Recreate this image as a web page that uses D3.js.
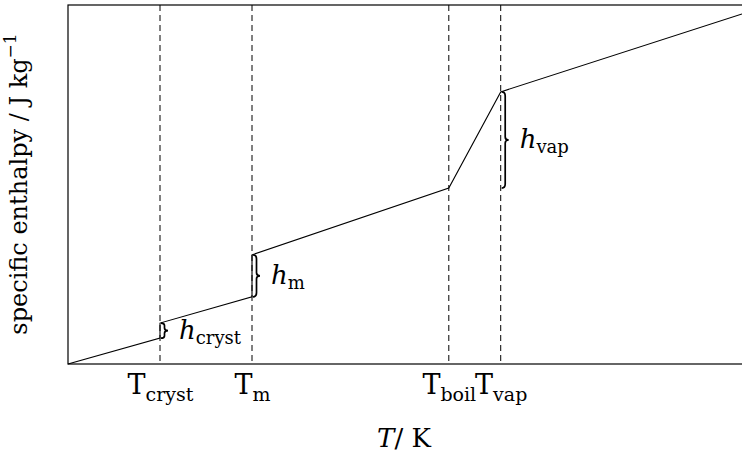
<!DOCTYPE html>
<html>
<head>
<meta charset="utf-8">
<script src="https://cdn.jsdelivr.net/npm/d3@7"></script>
<style>
  body { margin: 0; background: #fff; }
  text { font-family: "DejaVu Serif", serif; fill: #000; }
</style>
</head>
<body>
<div class="chart"></div>
<script>
// Chart size (same as window)
var svgWidth = 742;
var svgHeight = 456;

var margin = { top: 5, right: 0, bottom: 92, left: 68 };
var chartWidth = svgWidth - margin.left - margin.right;
var chartHeight = svgHeight - margin.top - margin.bottom;

// Data: phase transition temperatures (arbitrary units) and enthalpy curve
var tickNames = ["cryst", "m", "boil", "vap"];
var tickTemps = [1.365, 2.73, 5.65, 6.42];

// curve points (T, h), jumps share the same T
var curveT = [0, 1.365, 1.365, 2.73, 2.73, 5.65, 6.42, 10];
var curveH = [0, 0.72, 1.14, 1.87, 3.04, 4.90, 7.58, 9.75];

// braces: T, low and high enthalpy, subscript
var braceT = [1.365, 2.73, 6.42];
var braceLow = [0.72, 1.87, 4.90];
var braceHigh = [1.14, 3.04, 7.58];
var braceNames = ["cryst", "m", "vap"];

var svg = d3.select(".chart")
  .append("svg")
  .attr("width", svgWidth)
  .attr("height", svgHeight);

var chartGroup = svg.append("g")
  .attr("transform", `translate(${margin.left}, ${margin.top})`);

var xScale = d3.scaleLinear().domain([0, 10]).range([0, chartWidth]);
var yScale = d3.scaleLinear().domain([0, 10]).range([chartHeight, 0]);

// frame (right edge is cut off by the window)
chartGroup.append("rect")
  .attr("x", 0).attr("y", 0)
  .attr("width", chartWidth + 5)
  .attr("height", chartHeight)
  .attr("fill", "none")
  .attr("stroke", "#000")
  .attr("stroke-width", 1.2);

// dashed lines at transitions
chartGroup.selectAll(".dash")
  .data(tickTemps)
  .enter()
  .append("line")
  .attr("class", "dash")
  .attr("x1", d => xScale(d)).attr("x2", d => xScale(d))
  .attr("y1", 0).attr("y2", chartHeight)
  .attr("stroke", "#000")
  .attr("stroke-width", 1)
  .attr("stroke-dasharray", "6,4");

// enthalpy curve
var pts = curveT.map((t, i) => [t, curveH[i]]);
var line = d3.line().x(d => xScale(d[0])).y(d => yScale(d[1]));
chartGroup.append("path")
  .datum(pts)
  .attr("d", line)
  .attr("fill", "none")
  .attr("stroke", "#000")
  .attr("stroke-width", 1.1);

// curly brace path, opening on the left, tip pointing right
function bracePath(x, y1, y2, w) {
  var ym = (y1 + y2) / 2;
  var q = w / 2;
  return `M${x},${y1}` +
    ` Q${x + q},${y1} ${x + q},${y1 + Math.min(4, (ym - y1) / 3)}` +
    ` L${x + q},${ym - Math.min(3, (ym - y1) / 3)}` +
    ` Q${x + q},${ym} ${x + w},${ym}` +
    ` Q${x + q},${ym} ${x + q},${ym + Math.min(3, (y2 - ym) / 3)}` +
    ` L${x + q},${y2 - Math.min(4, (y2 - ym) / 3)}` +
    ` Q${x + q},${y2} ${x},${y2}`;
}

braceT.forEach(function(t, i) {
  var x = xScale(t);
  var yTop = yScale(braceHigh[i]);
  var yBot = yScale(braceLow[i]);
  chartGroup.append("path")
    .attr("d", bracePath(x + 1, yTop, yBot, 7))
    .attr("fill", "none")
    .attr("stroke", "#000")
    .attr("stroke-width", 1.7);

  var lab = chartGroup.append("text")
    .attr("x", x + 19)
    .attr("y", (yTop + yBot) / 2 + 8)
    .attr("font-size", 26);
  lab.append("tspan").attr("font-style", "italic").text("h");
  lab.append("tspan").attr("font-size", 18).attr("dy", 5).text(braceNames[i]);
});

// bottom axis with T subscript labels
var bottomAxis = d3.axisBottom(xScale)
  .tickValues(tickTemps)
  .tickSize(0)
  .tickPadding(0)
  .tickFormat("");

var axisG = chartGroup.append("g")
  .attr("transform", `translate(0, ${chartHeight})`)
  .call(bottomAxis);
axisG.select(".domain").remove();

axisG.selectAll(".tick").each(function(d, i) {
  var t = d3.select(this).append("text")
    .attr("y", 30)
    .attr("text-anchor", "middle")
    .attr("font-size", 27)
    .attr("font-family", "DejaVu Serif")
    .attr("fill", "#000");
  t.append("tspan").text("T");
  t.append("tspan").attr("font-size", 19).attr("dy", 7).text(tickNames[i]);
});

// axis titles
var xt = svg.append("text")
  .attr("x", margin.left + 336)
  .attr("y", 447)
  .attr("text-anchor", "middle")
  .attr("font-size", 26);
xt.append("tspan").attr("font-style", "italic").text("T");
xt.append("tspan").text("/ K");

var yt = svg.append("text")
  .attr("transform", "translate(27, 184) rotate(-90)")
  .attr("text-anchor", "middle")
  .attr("font-size", 24);
yt.append("tspan").text("specific enthalpy / J kg");
yt.append("tspan").attr("font-size", 17).attr("dy", -11).text("\u22121");
</script>
</body>
</html>
